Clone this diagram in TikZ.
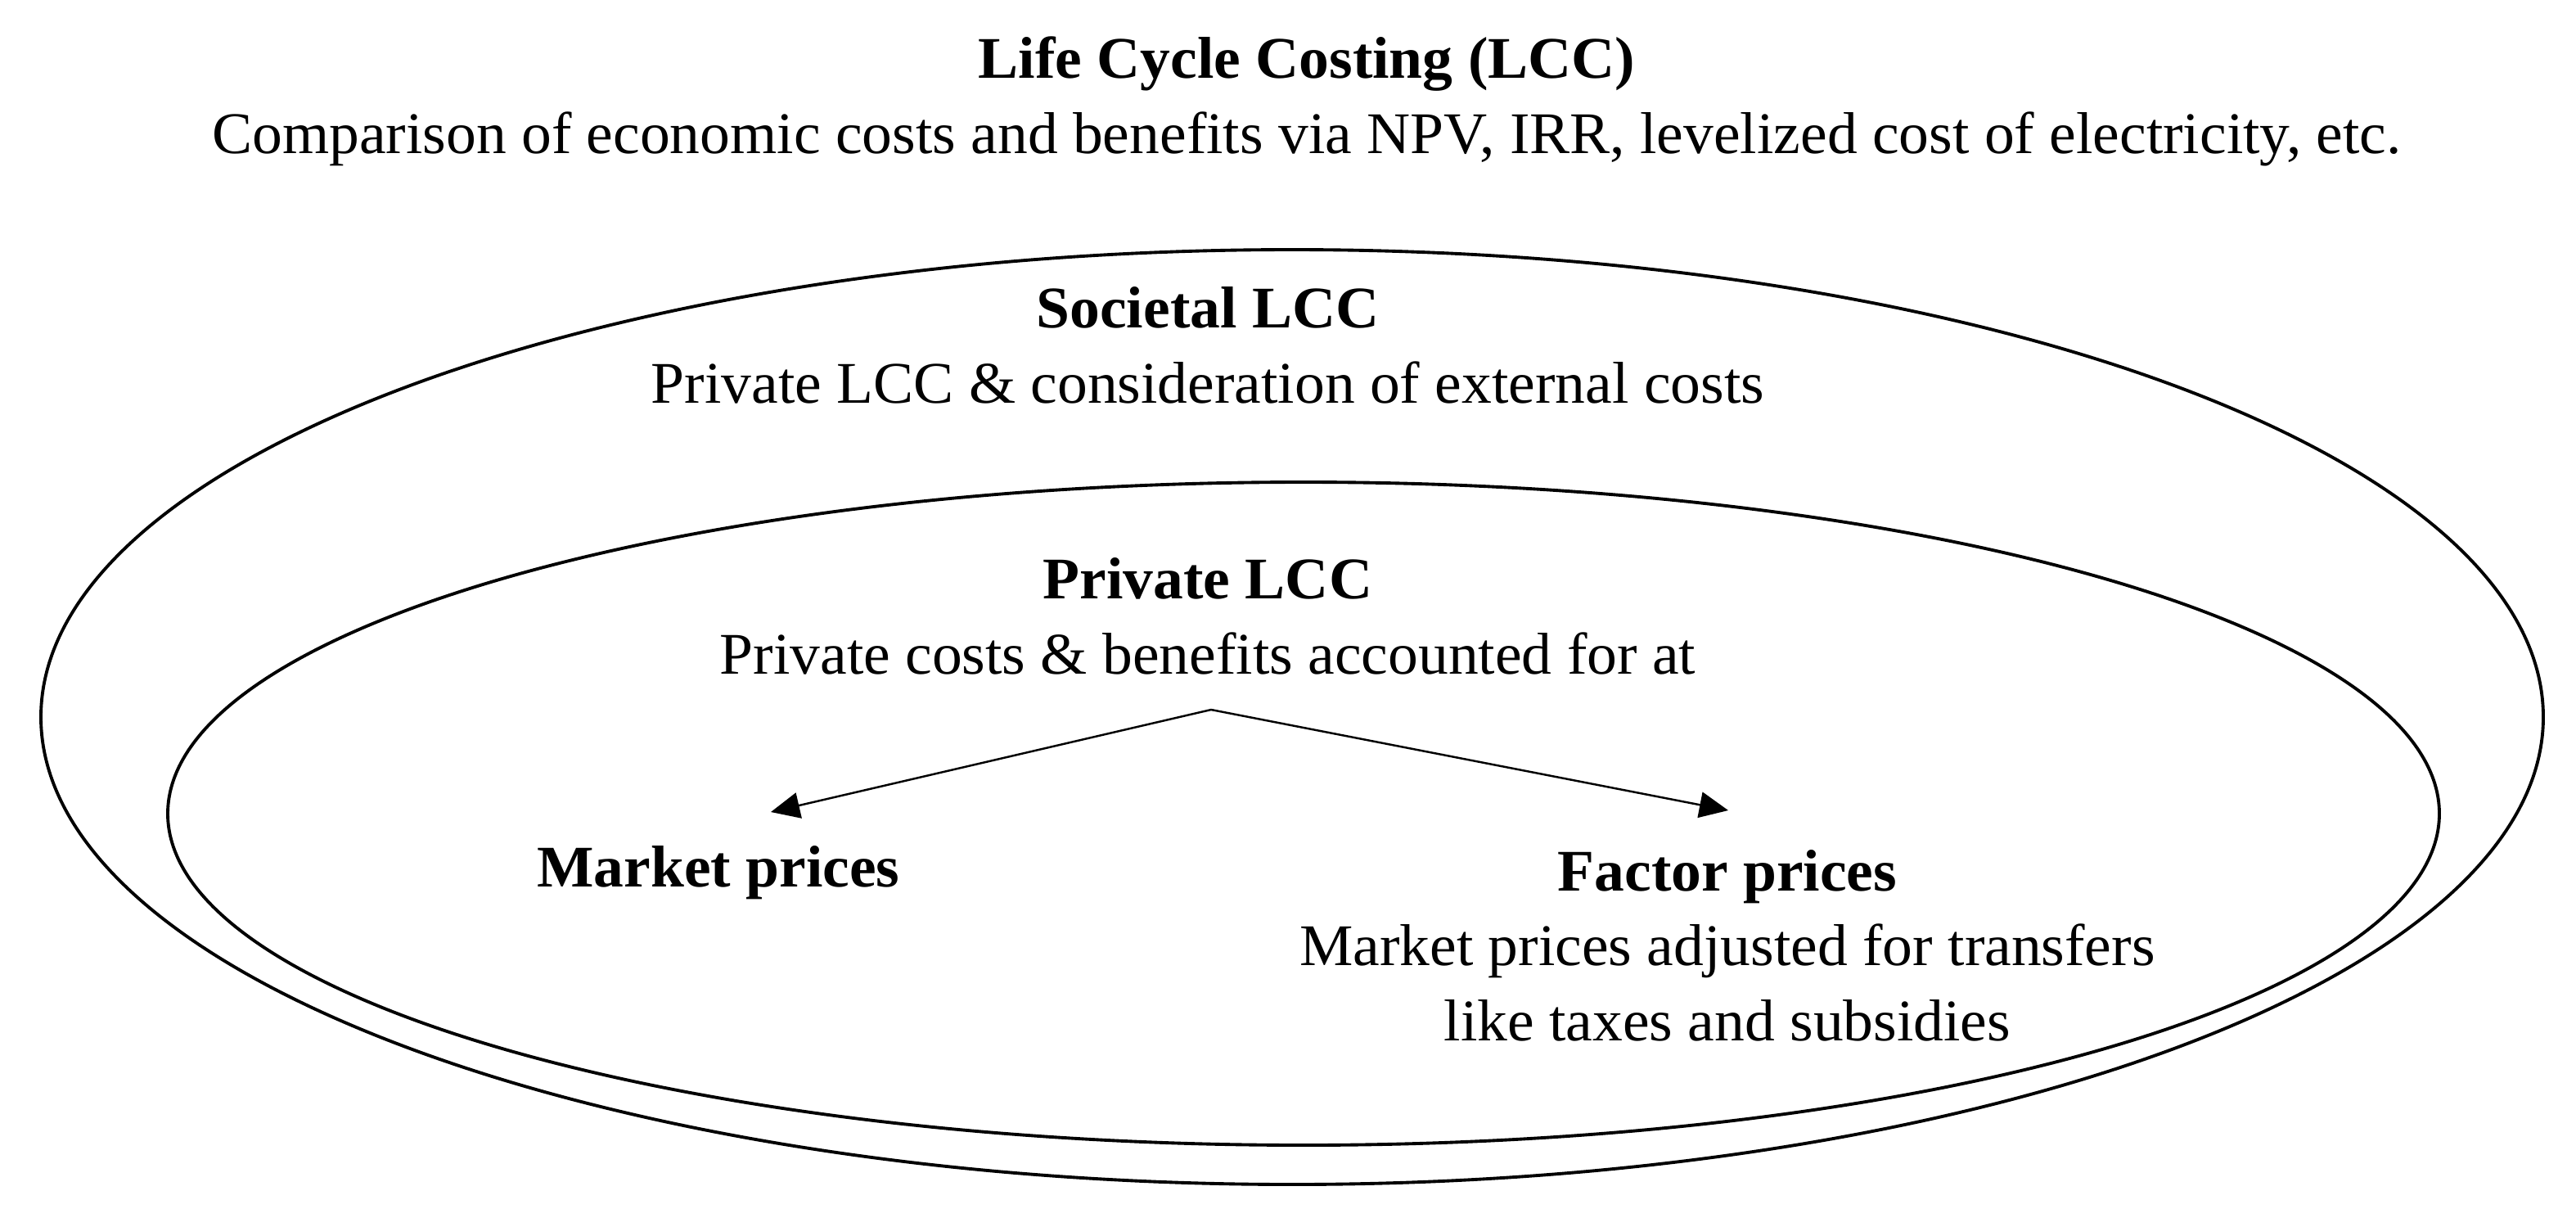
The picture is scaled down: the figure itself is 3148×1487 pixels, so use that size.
\documentclass[tikz,border=0pt]{standalone}
\usepackage{fontspec}
\setmainfont{Liberation Serif}[FakeStretch=1.02]
\usepackage{tikz}
\usetikzlibrary{arrows.meta,positioning}

\tikzset{
  txt/.style={align=center,inner sep=0pt,font=\fontsize{20.5}{26}\selectfont},
  ring/.style={line width=1.1pt},
  branch/.style={line width=0.7pt,-{Triangle[length=10pt,width=9pt]}}
}

\begin{document}
\begin{tikzpicture}[x=0.01cm,y=-0.01cm]
\useasboundingbox (0,0) rectangle (3148,1487);
% Nested ellipses (societal outside, private inside)
\draw[ring] (1579,876) ellipse [x radius=1529, y radius=571];
\draw[ring] (1593,994) ellipse [x radius=1388, y radius=405];
% Texts
\node[txt] (lcc) at (1597,124) {\textbf{Life Cycle Costing (LCC)}\\Comparison of economic costs and benefits via NPV, IRR, levelized cost of electricity, etc.};
\node[txt] (soc) at (1476,422) {\textbf{Societal LCC}\\Private LCC \& consideration of external costs};
\node[txt] (priv) at (1476,753) {\textbf{Private LCC}\\Private costs \& benefits accounted for at};
\node[txt] (mkt) at (878,1066) {\textbf{Market prices}};
\node[txt] (fac) at (2111,1155) {\textbf{Factor prices}\\Market prices adjusted for transfers\\like taxes and subsidies};
% Branching arrows
\coordinate (fork) at (1480,867);
\coordinate (mktend) at (942,992);
\coordinate (facend) at (2112,990);
\draw[branch] (fork) -- (mktend);
\draw[branch] (fork) -- (facend);
\end{tikzpicture}
\end{document}
